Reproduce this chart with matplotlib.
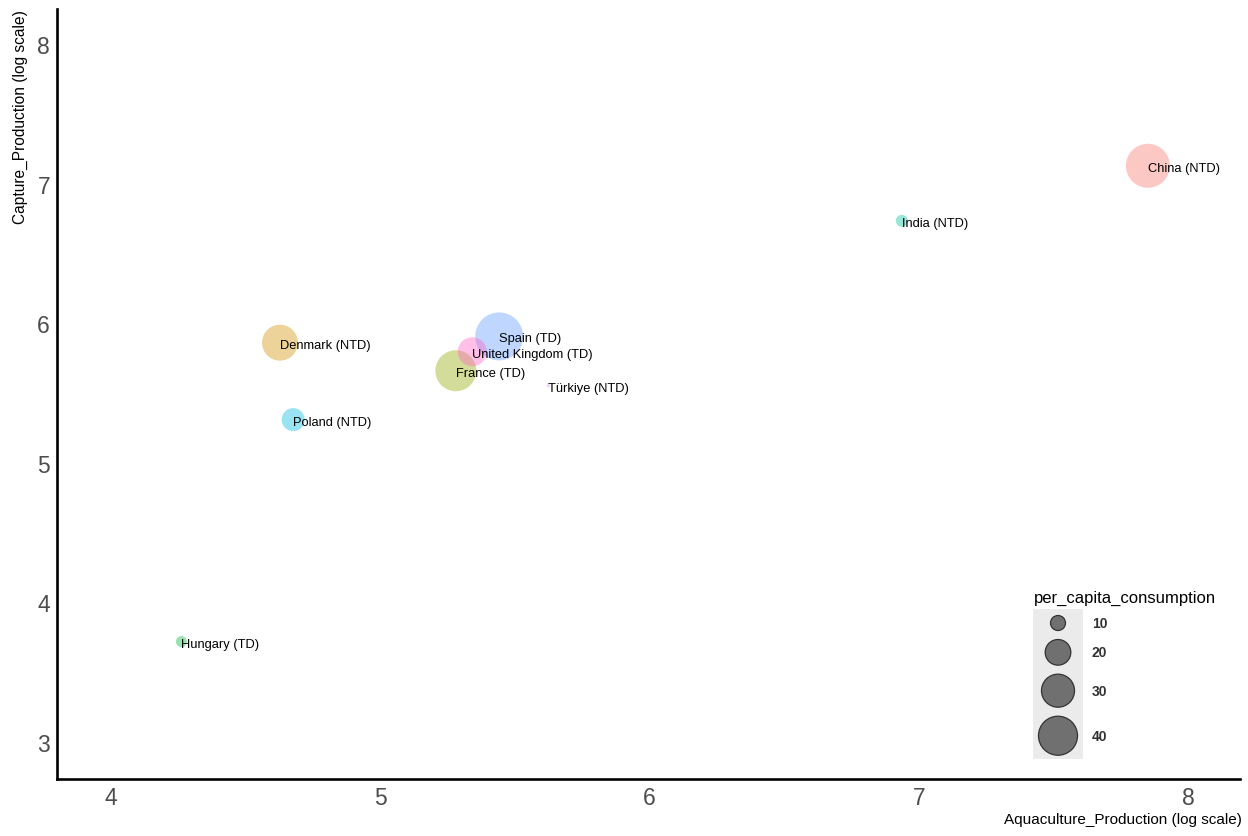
import numpy as np
import matplotlib
matplotlib.use("Agg")
import matplotlib.pyplot as plt

plt.rcParams['font.family'] = ['Liberation Sans', 'DejaVu Sans']

# data (log10 of production, per capita consumption)
countries = ["China", "Denmark", "France", "Hungary", "India", "Poland",
             "Spain", "Türkiye", "United Kingdom"]
country_type = ["NTD", "NTD", "TD", "TD", "NTD", "NTD", "TD", "NTD", "TD"]
aquaculture = [7.851, 4.628, 5.281, 4.262, 6.937, 4.677, 5.442, 5.625, 5.342]
capture = [7.127, 5.860, 5.659, 3.719, 6.733, 5.309, 5.905, 5.552, 5.795]
per_capita = [49.5, 34.7, 43.6, 7.6, 8.1, 17.0, 58.0, 5.0, 24.2]
size_breaks = [10, 20, 30, 40]

colors = ["#F8766D", "#D39200", "#93AA00", "#00BA38", "#00C19F",
          "#00B9E3", "#619CFF", "#DB72FB", "#FF61C3"]

DPI = 100


def radius_px(v):
    # area in px^2 grows linearly with consumption
    return np.sqrt(np.maximum(34 * np.asarray(v, float) - 163, 4) / np.pi)


def marker_s(v):
    return (2 * radius_px(v) * 72 / DPI) ** 2


fig = plt.figure(figsize=(12.48, 8.37), dpi=DPI)
ax = fig.add_axes([57 / 1248, 1 - 780 / 837, (1240 - 57) / 1248, 770 / 837])

ax.scatter(aquaculture, capture, s=marker_s(per_capita), c=colors,
           alpha=0.4, linewidths=0, zorder=2)
for x, y, name, t in zip(aquaculture, capture, countries, country_type):
    ax.annotate(f"{name} ({t})", (x, y), xytext=(0, -1.5),
                textcoords="offset points", ha="left", va="center",
                fontsize=9.3, color="black", zorder=3)

ax.set_xlim(3.80, 8.193)
ax.set_ylim(2.735, 8.25)
ax.set_xticks([4, 5, 6, 7, 8])
ax.set_yticks([3, 4, 5, 6, 7, 8])
ax.tick_params(length=0, labelsize=16.5, colors="#4D4D4D")
ax.tick_params(axis="x", pad=5)
ax.tick_params(axis="y", pad=5)
for side in ["top", "right"]:
    ax.spines[side].set_visible(False)
for side in ["left", "bottom"]:
    ax.spines[side].set_linewidth(1.9)
    ax.spines[side].set_color("black")

ax.set_xlabel("Aquaculture_Production (log scale)", fontsize=11, ha="right")
ax.xaxis.set_label_coords(1.002, -0.043)
ax.set_ylabel("Capture_Production (log scale)", fontsize=11.2, ha="right")
ax.yaxis.set_label_coords(-0.0245, 1.0)

# size legend
lg = fig.add_axes([1033 / 1248, 1 - 760 / 837, 50 / 1248, 150 / 837])
lg.set_xlim(0, 50)
lg.set_ylim(150, 0)
lg.set_facecolor("#EBEBEB")
for s in lg.spines.values():
    s.set_visible(False)
lg.set_xticks([])
lg.set_yticks([])
r = radius_px(size_breaks)
gap = 9
centers = 6.5 + np.concatenate([[0], np.cumsum(2 * r[:-1] + gap)]) + r
lg.scatter([25] * len(size_breaks), centers, s=marker_s(size_breaks),
           color="#707070", edgecolors="#333333", linewidths=0.9, zorder=2)
for c, b in zip(centers, size_breaks):
    lg.text(59, c, str(b), ha="left", va="center", fontsize=10,
            fontweight="bold", color="#333333", clip_on=False)
lg.text(1, -12, "per_capita_consumption", ha="left", va="center",
        fontsize=12, color="black", clip_on=False)

fig.savefig("out.png", dpi=DPI)
